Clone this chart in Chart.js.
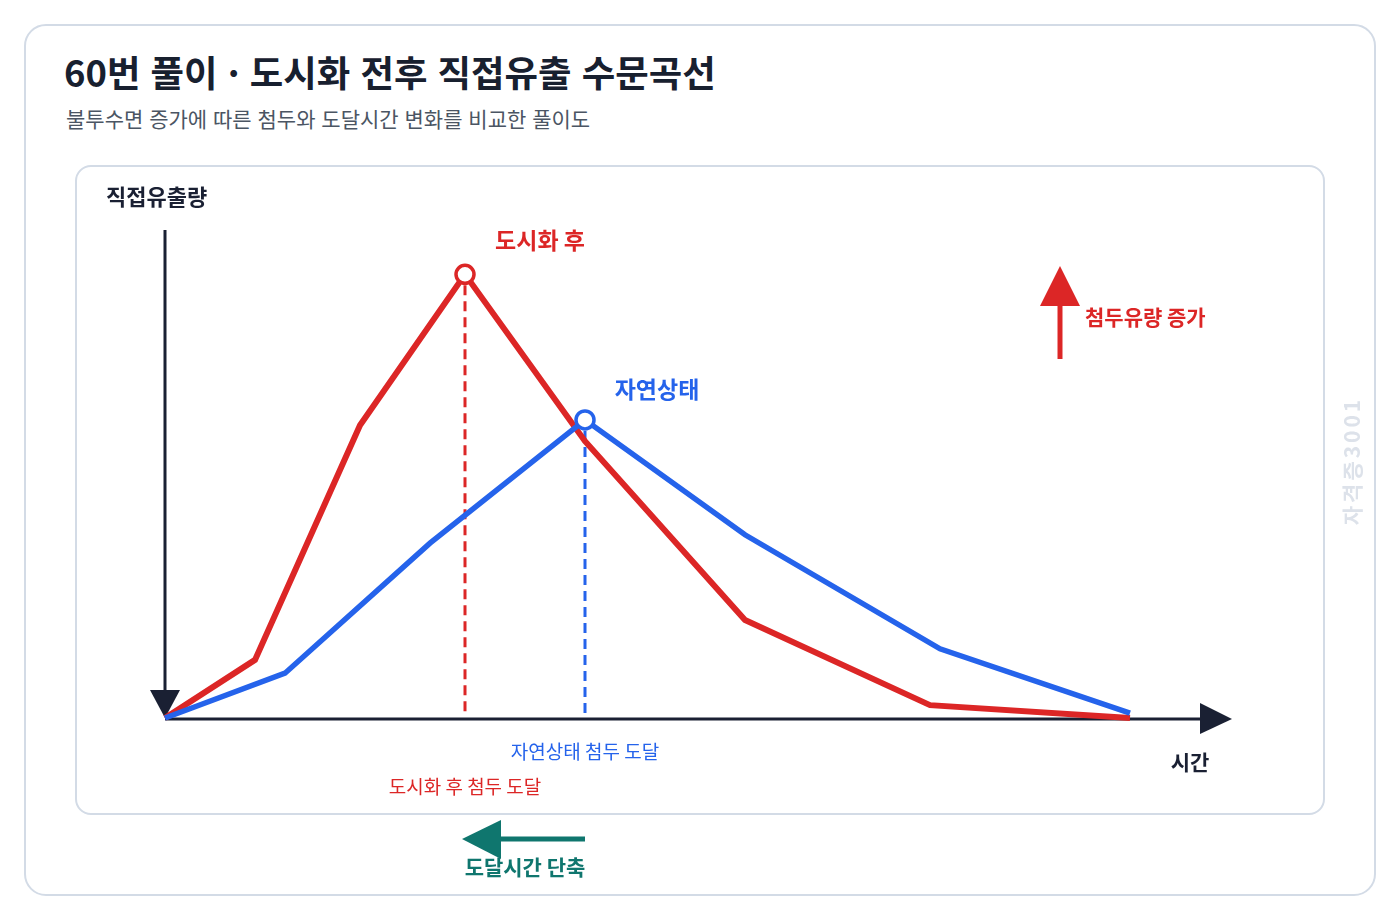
<!DOCTYPE html>
<html lang="ko">
<head>
<meta charset="utf-8">
<title>60번 풀이 · 도시화 전후 직접유출 수문곡선</title>
<script src="https://cdn.jsdelivr.net/npm/chart.js@4.4.1/dist/chart.umd.min.js"></script>
<style>
  html, body { margin: 0; padding: 0; background: #fff; }
  body { width: 1400px; height: 920px; position: relative; overflow: hidden;
         font-family: "Noto Sans CJK KR", "Noto Sans", sans-serif; }
  .card { position: absolute; left: 24px; top: 24px; width: 1348px; height: 868px;
          border: 2px solid #d3dbe6; border-radius: 22px; }
  .panel { position: absolute; left: 75px; top: 165px; width: 1246px; height: 646px;
           border: 2px solid #d3dbe6; border-radius: 16px; }
  h1 { position: absolute; left: 64px; top: 44px; margin: 0; font-size: 36.4px; font-weight: 700;
       color: #18202f; letter-spacing: 0; line-height: 54px; white-space: nowrap; }
  .sub { position: absolute; left: 66px; top: 103px; margin: 0; font-size: 21px; color: #4b5563;
         line-height: 30px; white-space: nowrap; }
  #chart { position: absolute; left: 0; top: 0; }
</style>
</head>
<body>
<div class="card"></div>
<div class="panel"></div>
<h1>60번 풀이 · 도시화 전후 직접유출 수문곡선</h1>
<p class="sub">불투수면 증가에 따른 첨두와 도달시간 변화를 비교한 풀이도</p>
<canvas id="chart" width="1400" height="920"></canvas>

<script>
// 시간축 (임의 단위) / 직접유출량 (첨두 = 100 기준)
const urbanTime = [0, 0.9, 1.95, 3.0, 4.2, 5.8, 7.65, 9.65];
const urbanFlow = [0, 13.1, 66.0, 100, 62.4, 22.1, 2.9, 0];
const naturalTime = [0, 1.2, 2.65, 4.2, 5.8, 7.75, 9.65];
const naturalFlow = [0, 10.1, 39.4, 67.2, 41.3, 15.6, 1.1];

const urbanPeak = 3;    // 도시화 후 첨두 index
const naturalPeak = 3;  // 자연상태 첨두 index

const RED = "#dc2626";
const BLUE = "#2563eb";
const INK = "#1a2033";
const TEAL = "#0f766e";
const FONT = '"Noto Sans CJK KR", "Noto Sans", sans-serif';

const toPoints = (xs, ys) => xs.map((x, i) => ({ x, y: ys[i] }));

function tri(ctx, pts, color) {
  ctx.beginPath();
  ctx.moveTo(pts[0][0], pts[0][1]);
  ctx.lineTo(pts[1][0], pts[1][1]);
  ctx.lineTo(pts[2][0], pts[2][1]);
  ctx.closePath();
  ctx.fillStyle = color;
  ctx.fill();
}

// 축 화살표 + 첨두 점선
const backdrop = {
  id: "backdrop",
  beforeDatasetsDraw(chart) {
    const { ctx, scales: { x, y } } = chart;
    const x0 = x.getPixelForValue(0);
    const y0 = y.getPixelForValue(0);
    ctx.save();

    // y 축
    ctx.strokeStyle = INK;
    ctx.lineWidth = 3;
    ctx.beginPath();
    ctx.moveTo(x0, 230);
    ctx.lineTo(x0, y0 - 20);
    ctx.stroke();
    tri(ctx, [[x0 - 15, y0 - 28], [x0 + 15, y0 - 28], [x0, y0]], INK);

    // x 축
    ctx.beginPath();
    ctx.moveTo(x0, y0 + 1);
    ctx.lineTo(1205, y0 + 1);
    ctx.stroke();
    tri(ctx, [[1200, y0 - 15], [1200, y0 + 16], [1232, y0 + 1]], INK);

    // 첨두 점선
    const drops = [
      [urbanTime[urbanPeak], urbanFlow[urbanPeak], RED],
      [naturalTime[naturalPeak], naturalFlow[naturalPeak], BLUE]
    ];
    ctx.lineWidth = 3;
    ctx.setLineDash([10, 6]);
    drops.forEach(([t, q, c]) => {
      const px = x.getPixelForValue(t);
      ctx.strokeStyle = c;
      ctx.beginPath();
      ctx.moveTo(px, y.getPixelForValue(q) + 11);
      ctx.lineTo(px, y0 - 4);
      ctx.stroke();
    });
    ctx.restore();
  }
};

// 글자 표시 + 화살표
const notes = {
  id: "notes",
  afterDraw(chart) {
    const { ctx, scales: { x, y } } = chart;
    const rx = x.getPixelForValue(urbanTime[urbanPeak]);
    const ry = y.getPixelForValue(urbanFlow[urbanPeak]);
    const bx = x.getPixelForValue(naturalTime[naturalPeak]);
    const by = y.getPixelForValue(naturalFlow[naturalPeak]);
    ctx.save();
    ctx.textBaseline = "middle";

    ctx.font = `700 22px ${FONT}`;
    ctx.fillStyle = INK;
    ctx.textAlign = "left";
    ctx.fillText("직접유출량", 106, 197);
    ctx.textAlign = "center";
    ctx.font = `700 21px ${FONT}`;
    ctx.fillText("시간", 1190, 762);

    ctx.font = `700 23px ${FONT}`;
    ctx.fillStyle = RED;
    ctx.fillText("도시화 후", rx + 75, ry - 34);
    ctx.fillStyle = BLUE;
    ctx.fillText("자연상태", bx + 72, by - 31);

    // 첨두유량 증가 화살표
    ctx.strokeStyle = RED;
    ctx.lineWidth = 5;
    ctx.beginPath();
    ctx.moveTo(1060, 359);
    ctx.lineTo(1060, 300);
    ctx.stroke();
    tri(ctx, [[1040, 306], [1080, 306], [1060, 266]], RED);
    ctx.font = `700 21px ${FONT}`;
    ctx.fillStyle = RED;
    ctx.textAlign = "left";
    ctx.fillText("첨두유량 증가", 1085, 317);

    // 도달 표시
    ctx.font = `400 19px ${FONT}`;
    ctx.textAlign = "center";
    ctx.fillStyle = BLUE;
    ctx.fillText("자연상태 첨두 도달", bx, 752);
    ctx.fillStyle = RED;
    ctx.fillText("도시화 후 첨두 도달", rx, 787);

    // 도달시간 단축 화살표
    ctx.strokeStyle = TEAL;
    ctx.lineWidth = 5;
    ctx.beginPath();
    ctx.moveTo(bx, 839);
    ctx.lineTo(rx + 35, 839);
    ctx.stroke();
    tri(ctx, [[rx + 36, 820], [rx + 36, 859], [rx - 3, 839]], TEAL);
    ctx.font = `700 21px ${FONT}`;
    ctx.fillStyle = TEAL;
    ctx.fillText("도달시간 단축", (rx + bx) / 2, 867);

    // 워터마크
    ctx.translate(1352, 461);
    ctx.rotate(-Math.PI / 2);
    ctx.font = `700 21px ${FONT}`;
    ctx.letterSpacing = "3px";
    ctx.fillStyle = "#dde2ea";
    ctx.fillText("자격증3001", 0, 0);
    ctx.restore();
  }
};

const peakOnly = (idx) => (ctx) => (ctx.dataIndex === idx ? 9 : 0);

new Chart(document.getElementById("chart"), {
  type: "line",
  data: {
    datasets: [
      {
        label: "자연상태",
        data: toPoints(naturalTime, naturalFlow),
        borderColor: BLUE,
        borderWidth: 5.5,
        pointRadius: peakOnly(naturalPeak),
        pointBorderWidth: 3.5,
        pointBackgroundColor: "#fff",
        pointBorderColor: BLUE,
        tension: 0,
        clip: false
      },
      {
        label: "도시화 후",
        data: toPoints(urbanTime, urbanFlow),
        borderColor: RED,
        borderWidth: 6,
        pointRadius: peakOnly(urbanPeak),
        pointBorderWidth: 3.5,
        pointBackgroundColor: "#fff",
        pointBorderColor: RED,
        tension: 0,
        clip: false
      }
    ]
  },
  options: {
    responsive: false,
    animation: false,
    layout: { padding: { left: 165, right: 235, top: 230, bottom: 202 } },
    scales: {
      x: { type: "linear", min: 0, max: 10, display: false },
      y: { min: 0, max: 110, display: false }
    },
    plugins: { legend: { display: false }, tooltip: { enabled: false } }
  },
  plugins: [backdrop, notes]
});
</script>
</body>
</html>
